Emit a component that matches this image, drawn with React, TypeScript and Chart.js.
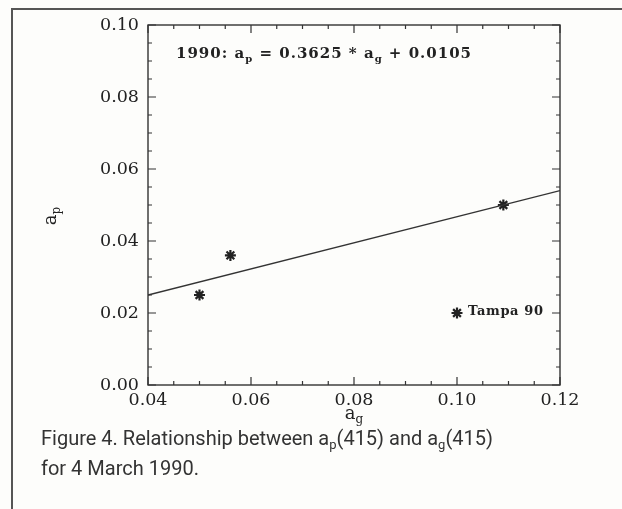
import React, { useEffect, useRef } from "react";
import { Chart, registerables } from "chart.js";

Chart.register(...registerables);

// Observed points (a_g, a_p)
const agValues = [0.05, 0.056, 0.109, 0.1];
const apValues = [0.025, 0.036, 0.05, 0.02];
const pointLabels = ["", "", "", "Tampa 90"];

// Regression line end points (1990: a_p = 0.3625 * a_g + 0.0105)
const fitX = [0.04, 0.12];
const fitY = [0.025, 0.054];

const equationParts = ["1990: a", "p", " = 0.3625 * a", "g", " + 0.0105"];

const xMin = 0.04;
const xMax = 0.12;
const yMin = 0.0;
const yMax = 0.1;
const tickStep = 0.02;
const xMinorDivs = 16;
const yMinorDivs = 20;

const INK = "#222";

const framePlugin = {
  id: "framePlugin",
  afterDraw(chart: any) {
    const ctx = chart.ctx;
    const a = chart.chartArea;
    const xs = chart.scales.x;
    const ys = chart.scales.y;
    ctx.save();
    ctx.strokeStyle = "#333";
    ctx.lineWidth = 1.4;
    ctx.strokeRect(a.left, a.top, a.right - a.left, a.bottom - a.top);
    ctx.lineWidth = 1.2;
    ctx.beginPath();
    for (let i = 0; i <= xMinorDivs; i++) {
      const v = xMin + (i * (xMax - xMin)) / xMinorDivs;
      const px = xs.getPixelForValue(v);
      const len = i % 4 === 0 ? 8 : 4;
      ctx.moveTo(px, a.bottom);
      ctx.lineTo(px, a.bottom - len);
      ctx.moveTo(px, a.top);
      ctx.lineTo(px, a.top + len);
    }
    for (let i = 0; i <= yMinorDivs; i++) {
      const v = yMin + (i * (yMax - yMin)) / yMinorDivs;
      const py = ys.getPixelForValue(v);
      const len = i % 4 === 0 ? 8 : 4;
      ctx.moveTo(a.left, py);
      ctx.lineTo(a.left + len, py);
      ctx.moveTo(a.right, py);
      ctx.lineTo(a.right - len, py);
    }
    ctx.stroke();

    // Equation text
    ctx.fillStyle = INK;
    ctx.textBaseline = "alphabetic";
    ctx.textAlign = "left";
    (ctx as any).letterSpacing = "1px";
    const mainFont = "bold 15px 'DejaVu Serif'";
    const subFont = "bold 10px 'DejaVu Serif'";
    let x = a.left + 28;
    const by = a.top + 33;
    equationParts.forEach((part, idx) => {
      const isSub = idx % 2 === 1;
      ctx.font = isSub ? subFont : mainFont;
      ctx.fillText(part, x, isSub ? by + 4 : by);
      x += ctx.measureText(part).width;
    });

    // Point labels
    (ctx as any).letterSpacing = "0.6px";
    ctx.font = "bold 13px 'DejaVu Serif'";
    ctx.textBaseline = "middle";
    pointLabels.forEach((lab, i) => {
      if (!lab) return;
      const px = xs.getPixelForValue(agValues[i]);
      const py = ys.getPixelForValue(apValues[i]);
      ctx.fillText(lab, px + 11, py - 1);
    });
    (ctx as any).letterSpacing = "0px";

    // Axis titles with subscripts
    ctx.textBaseline = "alphabetic";
    const tMain = "18px 'DejaVu Serif'";
    const tSub = "12px 'DejaVu Serif'";
    // x title
    const cx = (a.left + a.right) / 2;
    ctx.font = tMain;
    const wA = ctx.measureText("a").width;
    ctx.font = tSub;
    const wG = ctx.measureText("g").width;
    const tx = cx - (wA + wG) / 2;
    const ty = a.bottom + 34;
    ctx.font = tMain;
    ctx.fillText("a", tx, ty);
    ctx.font = tSub;
    ctx.fillText("g", tx + wA, ty + 4);
    // y title
    ctx.translate(56, (a.top + a.bottom) / 2 + 11);
    ctx.rotate(-Math.PI / 2);
    ctx.font = tMain;
    const wA2 = ctx.measureText("a").width;
    ctx.font = tSub;
    const wP = ctx.measureText("p").width;
    const sx = -(wA2 + wP) / 2;
    ctx.font = tMain;
    ctx.fillText("a", sx, 0);
    ctx.font = tSub;
    ctx.fillText("p", sx + wA2, 4);
    ctx.restore();
  },
};

function App() {
  const ref = useRef<HTMLCanvasElement | null>(null);

  useEffect(() => {
    if (!ref.current) return;
    const H = 430;
    const chart = new Chart(ref.current, {
      type: "scatter",
      data: {
        datasets: [
          {
            type: "line",
            label: "fit",
            data: fitX.map((x, i) => ({ x, y: fitY[i] })),
            borderColor: "#333",
            borderWidth: 1.3,
            pointRadius: 0,
            fill: false,
          } as any,
          {
            label: "obs",
            data: agValues.map((x, i) => ({ x, y: apValues[i] })),
            pointStyle: "star",
            pointRadius: 5.5,
            borderWidth: 2.2,
            borderColor: "#222",
            backgroundColor: "#222",
          },
        ],
      },
      options: {
        animation: false,
        responsive: false,
        maintainAspectRatio: false,
        layout: { padding: { left: 0, right: 62, top: 25, bottom: 0 } },
        plugins: {
          legend: { display: false },
          tooltip: { enabled: false },
        },
        scales: {
          x: {
            type: "linear",
            min: xMin,
            max: xMax,
            grid: { display: false, drawTicks: false },
            border: { display: false },
            ticks: {
              stepSize: tickStep,
              padding: 5,
              color: INK,
              font: { family: "DejaVu Serif", size: 17.5 },
              callback: (v: any) => Number(v).toFixed(2),
            },
            afterFit: (s: any) => {
              s.height = H - 385;
            },
          },
          y: {
            type: "linear",
            min: yMin,
            max: yMax,
            grid: { display: false, drawTicks: false },
            border: { display: false },
            ticks: {
              stepSize: tickStep,
              padding: 9,
              color: INK,
              font: { family: "DejaVu Serif", size: 17.5 },
              callback: (v: any) => Number(v).toFixed(2),
            },
            afterFit: (s: any) => {
              s.width = 148;
            },
          },
        },
      },
      plugins: [framePlugin],
    });
    return () => chart.destroy();
  }, []);

  const subStyle: React.CSSProperties = {
    fontSize: 13,
    lineHeight: 0,
    verticalAlign: "-4px",
  };

  return (
    <div
      style={{
        position: "fixed",
        left: 0,
        top: 0,
        width: 622,
        height: 509,
        background: "#fdfdfb",
        overflow: "hidden",
      }}
    >
      <canvas
        ref={ref}
        width={622}
        height={430}
        style={{ position: "absolute", left: 0, top: 0, width: 622, height: 430 }}
      />
      <div
        style={{
          position: "absolute",
          left: 11,
          top: 8,
          width: 611,
          height: 501,
          borderTop: "2px solid #555",
          borderLeft: "2px solid #555",
        }}
      />
      <div
        style={{
          position: "absolute",
          left: 41,
          top: 423,
          fontFamily: "Roboto, sans-serif",
          fontSize: 20,
          lineHeight: "30px",
          color: "#333",
          whiteSpace: "nowrap",
        }}
      >
        Figure 4. Relationship between a<span style={subStyle}>p</span>(415) and a
        <span style={subStyle}>g</span>(415)
        <br />
        for 4 March 1990.
      </div>
    </div>
  );
}

export default App;
